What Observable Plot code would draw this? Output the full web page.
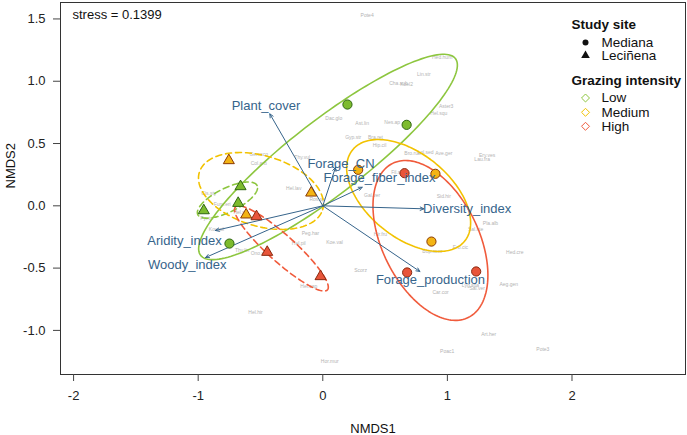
<!DOCTYPE html>
<html><head><meta charset="utf-8">
<script src="https://cdn.jsdelivr.net/npm/d3@7"></script>
<script src="https://cdn.jsdelivr.net/npm/@observablehq/plot@0.6"></script>
<style>
body{margin:0;background:#fff;font-family:Arial,"Liberation Sans",sans-serif}
</style>
</head><body><div id="chart"></div>
<script>
// ---- Sample scores (NMDS1, NMDS2) ----
const sampleSite = ["Mediana","Mediana","Mediana","Mediana","Mediana","Mediana","Mediana","Mediana","Mediana",
  "Leciñena","Leciñena","Leciñena","Leciñena","Leciñena","Leciñena","Leciñena","Leciñena","Leciñena"];
const sampleGrazing = ["Low","Low","Low","Medium","Medium","Medium","High","High","High",
  "Low","Low","Low","Medium","Medium","Medium","High","High","High"];
const sampleX = [0.198,0.673,-0.749, 0.284,0.904,0.872, 0.656,0.677,1.231,
  -0.660,-0.679,-0.955, -0.754,-0.093,-0.615, -0.532,-0.446,-0.018];
const sampleY = [0.813,0.650,-0.303, 0.289,0.257,-0.287, 0.262,-0.535,-0.527,
  0.155,0.021,-0.038, 0.364,0.104,-0.072, -0.086,-0.372,-0.567];

// ---- Environmental vectors ----
const vecName = ["Plant_cover","Forage_CN","Forage_fiber_index","Diversity_index","Forage_production","Aridity_index","Woody_index"];
const vecX = [-0.425,0.102,0.316,0.811,0.779,-0.861,-0.941];
const vecY = [0.738,0.308,0.149,-0.024,-0.527,-0.198,-0.415];
const vecLabelX = [-0.456,0.146,0.455,1.159,0.864,-1.110,-1.088];
const vecLabelY = [0.804,0.335,0.223,-0.022,-0.592,-0.278,-0.471];

// ---- Group ellipses (centre, semi-axes, rotation in degrees) ----
const ellSite = ["Mediana","Mediana","Mediana","Leciñena","Leciñena","Leciñena"];
const ellGrazing = ["Low","Medium","High","Low","Medium","High"];
const ellCx = [0.042,0.689,0.864,-0.765,-0.496,-0.332];
const ellCy = [0.392,0.083,-0.278,0.046,0.119,-0.342];
const ellA = [1.292,0.580,0.689,0.265,0.517,0.497];
const ellB = [0.297,0.336,0.387,0.096,0.282,0.108];
const ellAngle = [37.7,-39.1,-63.9,26.2,-16.8,-42.0];

// ---- Species scores ----
const spName = ["Pote4","Hed.hum","Lin.str","Cha.sub","Koel2","Aster3","Hel.squ","Nes.ap","Dac.glo","Ast.lin",
  "Gyp.str","Bra.ret","Hip.cil","Thy.vul","Bro.rub","Lol.sed","Ave.ger","Ery.ves","Lau.fra","Fil.sp",
  "Sid.hir","Pla.alb","Sal.ste","Hir.fru","Bup.sem","Ero.cic","Hed.cre","Koe.val","Peg.har","Hel.pil",
  "Scorz","Lyg.spa","Sal.ver","Aeg.gen","Car.cor","Art.her","Poac1","Pote3","Hel.hir","Hor.mur",
  "Hel.lav","Gal.ver","Ros.sp","Gen.sco","Col.arb","Cis.sty","Fum.eri","Pyr.tu","Koe.pil","Thy.lin",
  "Ono.sp","Hel.cap","Hel.sp"];
const spX = [0.356,0.958,0.811,0.608,0.672,0.990,0.931,0.557,0.088,0.316,
  0.244,0.423,0.455,-0.165,0.720,0.824,0.971,1.319,1.279,0.597,
  0.971,1.346,1.226,0.463,0.878,1.105,1.541,0.094,-0.099,-0.193,
  0.303,1.185,1.239,1.493,0.945,1.332,0.998,1.766,-0.540,0.056,
  -0.233,0.396,-0.045,-0.514,-0.514,-0.915,-0.807,-0.933,-0.853,-0.647,
  -0.514,-0.112,-0.660];
const spY = [1.527,1.188,1.054,0.981,0.973,0.799,0.738,0.671,0.698,0.658,
  0.551,0.551,0.484,0.390,0.417,0.428,0.417,0.404,0.369,0.270,
  0.075,-0.140,-0.188,-0.230,-0.364,-0.337,-0.377,-0.292,-0.220,-0.300,
  -0.519,-0.642,-0.666,-0.632,-0.693,-1.033,-1.169,-1.153,-0.859,-1.247,
  0.141,0.083,0.048,0.412,0.337,0.101,0.010,-0.104,-0.188,-0.359,
  -0.380,-0.645,-0.051];

const xTicks = [-2,-1,0,1,2];
const yTicks = [-1.0,-0.5,0.0,0.5,1.0,1.5];
const stressText = "stress = 0.1399";
const grazLevels = ["Low","Medium","High"];
const siteLevels = ["Mediana","Leciñena"];

// ---- styles ----
const ellColor = {Low:"#8DC63F", Medium:"#F2C200", High:"#F05B3C"};
const ptFill = {Low:"#7DBB2E", Medium:"#F3B414", High:"#E8553A"};
const ptStroke = {Low:"#2F6612", Medium:"#8A3A05", High:"#8A2A10"};
const vecColor = "#36648B";

// ---- build tables ----
const samples = sampleX.map((x,i)=>({x, y:sampleY[i], site:sampleSite[i], graz:sampleGrazing[i]}));
const vecs = vecName.map((n,i)=>({name:n, x:vecX[i], y:vecY[i], lx:vecLabelX[i], ly:vecLabelY[i]}));
const species = spName.map((n,i)=>({name:n, x:spX[i], y:spY[i]}));
const ellPts = [];
ellCx.forEach((cx,i)=>{
  const t = ellAngle[i]*Math.PI/180;
  for(let k=0;k<=160;k++){
    const u = 2*Math.PI*k/160;
    const ex = ellA[i]*Math.cos(u), ey = ellB[i]*Math.sin(u);
    ellPts.push({id:i, site:ellSite[i], graz:ellGrazing[i],
      x: cx + ex*Math.cos(t) - ey*Math.sin(t),
      y: ellCy[i] + ex*Math.sin(t) + ey*Math.cos(t)});
  }
});

const marks = [];
marks.push(Plot.text(species, {x:"x", y:"y", text:"name", fontSize:5, fill:"#b3b3b3"}));
ellSite.forEach((s,i)=>{
  marks.push(Plot.line(ellPts.filter(d=>d.id===i), {x:"x", y:"y", stroke:ellColor[ellGrazing[i]],
    strokeWidth:1.6, strokeDasharray: s==="Leciñena" ? "6,4" : null, curve:"linear"}));
});
marks.push(Plot.arrow(vecs, {x1:d=>0, y1:d=>0, x2:"x", y2:"y", stroke:vecColor, strokeWidth:1, headLength:6, headAngle:50}));
siteLevels.forEach(s=>grazLevels.forEach(g=>{
  marks.push(Plot.dot(samples.filter(d=>d.site===s && d.graz===g), {x:"x", y:"y",
    symbol: s==="Mediana" ? "circle" : "triangle", r: s==="Mediana" ? 4.6 : 4.1,
    fill: ptFill[g], stroke: ptStroke[g], strokeWidth: 1}));
}));
marks.push(Plot.text(vecs, {x:"lx", y:"ly", text:"name", fill:vecColor, fontSize:13}));
marks.push(Plot.frame({stroke:"#333", strokeWidth:1}));
marks.push(Plot.text([stressText], {frameAnchor:"top-left", dx:12, dy:12, lineAnchor:"middle", textAnchor:"start", fontSize:13, fill:"#111"}));

// legend
const legX = 511; // offset from frame left
const legendTitles = [{t:"Study site", dy:22},{t:"Grazing intensity", dy:78}];
marks.push(Plot.text(legendTitles, {frameAnchor:"top-left", text:"t", dx:legX, dy:d=>0, fontWeight:"bold", fontSize:13.5, textAnchor:"start", lineAnchor:"middle", fill:"#111"}));
legendTitles.forEach(l=>marks.push(Plot.text([l.t], {frameAnchor:"top-left", dx:legX, dy:l.dy, fontWeight:"bold", fontSize:13.5, textAnchor:"start", lineAnchor:"middle", fill:"#111"})));
marks.pop(); marks.pop(); marks.pop();
legendTitles.forEach(l=>marks.push(Plot.text([l.t], {frameAnchor:"top-left", dx:legX, dy:l.dy, fontWeight:"bold", fontSize:13.5, textAnchor:"start", lineAnchor:"middle", fill:"#111"})));
const siteRows = [40, 53];
siteLevels.forEach((s,i)=>{
  marks.push(Plot.dot([s], {frameAnchor:"top-left", dx:legX+14, dy:siteRows[i], symbol: i===0?"circle":"triangle", r: i===0?3:3.2, fill:"#111", stroke:"none"}));
  marks.push(Plot.text([s], {frameAnchor:"top-left", dx:legX+30, dy:siteRows[i], fontSize:13.5, textAnchor:"start", lineAnchor:"middle", fill:"#111"}));
});
const grazRows = [95.5, 109.8, 123.8];
grazLevels.forEach((g,i)=>{
  marks.push(Plot.dot([g], {frameAnchor:"top-left", dx:legX+14, dy:grazRows[i], symbol:"diamond2", r:3.6, fill:"none", stroke:ellColor[g], strokeWidth:1}));
  marks.push(Plot.text([g], {frameAnchor:"top-left", dx:legX+30, dy:grazRows[i], fontSize:13.5, textAnchor:"start", lineAnchor:"middle", fill:"#111"}));
});

// axes
marks.push(Plot.axisX({ticks:xTicks, tickFormat:d=>String(d), tickSize:7, tickPadding:9, fontSize:13, label:null, stroke:"#444", color:"#222"}));
marks.push(Plot.axisY({ticks:yTicks, tickFormat:d=>d.toFixed(1).replace("\u2212","-"), tickSize:7, tickPadding:8, fontSize:13, label:null, stroke:"#444", color:"#222"}));
marks.push(Plot.text(["NMDS1"], {frameAnchor:"bottom", dy:54, fontSize:13, fill:"#111", lineAnchor:"middle"}));
marks.push(Plot.text(["NMDS2"], {frameAnchor:"left", dx:-50, rotate:-90, fontSize:13, fill:"#111", lineAnchor:"middle"}));

const chart = Plot.plot({
  width:687, height:435,
  marginLeft:60, marginRight:2, marginTop:2, marginBottom:61,
  x:{domain:[-2.105,2.911]},
  y:{domain:[-1.354,1.632]},
  style:{fontFamily:"Arial, 'Liberation Sans', sans-serif", background:"#fff"},
  marks
});
document.getElementById("chart").appendChild(chart);
</script>
</body></html>
